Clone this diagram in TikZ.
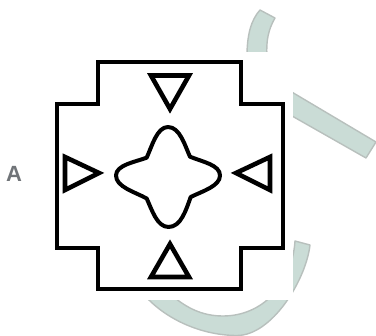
\documentclass[tikz,border=0pt]{standalone}
\usepackage{fontspec}
\setmainfont{Liberation Sans}
\usepackage{tikz}
\usetikzlibrary{positioning,calc}
\definecolor{logofill}{RGB}{202,220,214}
\definecolor{logoedge}{RGB}{184,192,189}
\definecolor{labelgray}{RGB}{112,116,120}
\tikzset{
  logopart/.style={fill=logofill,draw=logoedge,line width=1.4pt,line join=round},
  outline/.style={line width=4.6pt,line join=miter,black},
}
\begin{document}
\begin{tikzpicture}[x=1pt,y=-1pt]
  \useasboundingbox (0,0) rectangle (376,336);
  % pale logo behind the figure
  \draw[logopart] (260,10) .. controls (251,20) and (247,35) .. (247,56)
        -- (267,56) .. controls (266,42) and (268,30) .. (275,18) -- cycle;
  \draw[logopart] (285,88) -- (376,142) -- (366,158) -- (285,112) -- cycle;
  \draw[logopart] (295,241) -- (310,245) .. controls (306,280) and (272,335.5) .. (237,335.5)
        .. controls (205,335.5) and (170,322) .. (147,298)
        -- (175,298) .. controls (190,310) and (205,316) .. (223,316)
        .. controls (262,316) and (292,285) .. (295,241) -- cycle;
  \fill[white] (52,52) rectangle (293,300);
  % outer stepped frame
  \draw[outline] (98,62) -- (241,62) -- (241,104) -- (283,104) -- (283,248)
        -- (241,248) -- (241,289) -- (98,289) -- (98,248) -- (57,248)
        -- (57,104) -- (98,104) -- cycle;
  % four triangles
  \draw[outline] (151,75.5) -- (189,75.5) -- (170,109) -- cycle;
  \draw[outline] (151,277) -- (189,277) -- (170,244) -- cycle;
  \draw[outline] (65,157) -- (99,173) -- (65,190) -- cycle;
  \draw[outline] (270,157) -- (236,173) -- (270,190) -- cycle;
  % centre shape
  \draw[line width=4pt,black,line join=round]
    (168,127) .. controls (157,127) and (152,146) .. (146.7,157.7)
    .. controls (135,162) and (116,165) .. (116,175.5)
    .. controls (116,187) and (135,192) .. (146.7,198.5)
    .. controls (152,210) and (157,227) .. (168.5,227)
    .. controls (181,227) and (186,210) .. (190.7,197)
    .. controls (203,191) and (220,186) .. (220,175.5)
    .. controls (220,165) and (203,162) .. (190,156.7)
    .. controls (185,146) and (180,127) .. (168,127) -- cycle;
  \node[text=labelgray,font=\fontsize{22}{22}\selectfont\bfseries] (lblA) at (14,173.5) {A};
\end{tikzpicture}
\end{document}
